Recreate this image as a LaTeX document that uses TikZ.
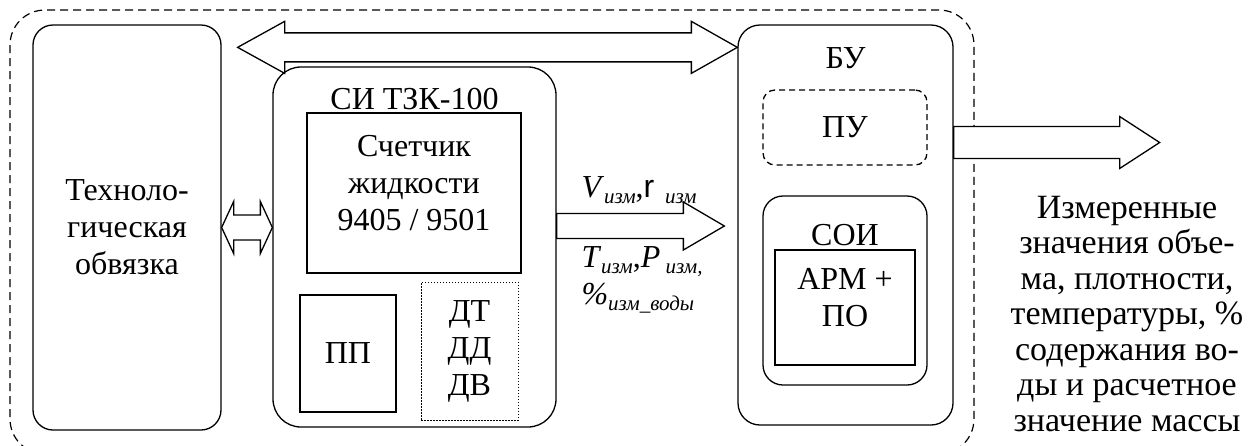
\documentclass[tikz,border=0pt]{standalone}
\usepackage{fontspec}
\setmainfont{Liberation Serif}
\newfontfamily\rhofont{Liberation Sans}
\usetikzlibrary{positioning, calc}
\newcommand{\idx}[1]{\raisebox{-6pt}{\fontsize{21}{21}\selectfont\itshape #1}}

\tikzset{
	box/.style={draw, line width=1.3pt, align=center, inner sep=0pt},
	rbox/.style={box, rounded corners=#1},
	blockarrow/.style={draw, fill=white, line width=1.3pt, line join=miter},
}

\begin{document}
\begin{tikzpicture}[x=1pt, y=-1pt, font=\fontsize{32}{37}\selectfont, node distance=6pt]
		\useasboundingbox (0,0) rectangle (1258,445);
		\clip (0,0) rectangle (1258,445);
		
		% outer frame
		\node[draw, line width=1.2pt, dash pattern=on 8pt off 5pt, rounded corners=35pt, minimum width=964pt, minimum height=444pt] (sikn) at (492,232) {};
		
		\node[rbox=20pt, minimum width=188pt, minimum height=405pt] (tech) at (127,227.5) {Техноло-\\гическая\\обвязка};
		\node[rbox=22pt, minimum width=215pt, minimum height=400pt] (bu) at (845.5,225) {};
		
		% arrows
		\coordinate (busA) at ($(tech.north east)+(16,23)$);
		\coordinate (busB) at (bu.west |- busA);
		\draw[blockarrow] (busA) -- ++(47,-26) -- ++(0,11.5) -- ($(busB)+(-46,-14.5)$) -- ++(0,-11.5) -- (busB) -- ++(-46,26) -- ++(0,-11.5) -- ($(busA)+(47,14.5)$) -- ++(0,11.5) -- cycle;
		
		\node[rbox=28pt, minimum width=283pt, minimum height=360pt] (si) at (414.5,247) {};
		\node[below=18pt of si.north] (silbl) {СИ ТЗК-100};
		\node[box, minimum width=214pt, minimum height=160pt] (counter) at (414,193) {};
		\node[align=center] (counterlbl) at (414,183) {Счетчик\\жидкости\\9405 / 9501};
		\node[box, minimum width=96pt, minimum height=117pt] (pp) at (348,353.5) {ПП};
		\node[box, line width=1pt, dash pattern=on 1.5pt off 1.5pt, minimum width=97pt, minimum height=138pt] (sensors) at (469.5,351) {ДТ\\ДД\\ДВ};
		
		\coordinate (tA) at (tech.east);
		\coordinate (tB) at (si.west |- tA);
		\draw[blockarrow] (tA) -- ++(12,-26) -- ++(0,13.5) -- ($(tB)+(-12,-12.5)$) -- ++(0,-13.5) -- (tB) -- ++(-12,26) -- ++(0,-13.5) -- ($(tA)+(12,12.5)$) -- ++(0,13.5) -- cycle;
		
		\coordinate (flowA) at ($(si.east)+(0,-21)$);
		\coordinate (flowB) at ($(bu.west |- flowA)+(-13,0)$);
		\draw[blockarrow] ($(flowA)+(0,-12.5)$) -- ($(flowB)+(-41,-12.5)$) -- ++(0,-11.5) -- (flowB) -- ++(-41,24) -- ++(0,-11.5) -- ($(flowA)+(0,12.5)$) -- cycle;
		\node[anchor=west] (flowtop) at (578,190) {\textit{V}\idx{изм},{\rhofont r}\,\,\idx{изм}};
		\node[anchor=west] (flowbot) at (578,262) {\textit{T}\idx{изм},\textit{P}\,\idx{изм,}};
		\node[anchor=west] (flowwater) at (578,298) {\textit{\%}\idx{изм\_воды}};
		
		\node[below=20pt of bu.north] (bulbl) {БУ};
		\node[rbox=12pt, dash pattern=on 6pt off 4pt, minimum width=164pt, minimum height=75pt] (pu) at (845,127.5) {ПУ};
		\node[rbox=20pt, minimum width=164pt, minimum height=189pt] (soi) at (845,290.5) {};
		\node (soilbl) at (845,235) {СОИ};
		\node[box, minimum width=140pt, minimum height=115pt] (arm) at (845,307.5) {};
		\node[align=center] (armlbl) at (845,298) {АРМ +\\ПО};
		
		\coordinate (outA) at ($(bu.east |- pu.east)+(0,15)$);
		\coordinate (outB) at ($(outA)+(206,0)$);
		\draw[blockarrow] ($(outA)+(0,-16)$) -- ($(outB)+(-40,-16)$) -- ++(0,-10) -- (outB) -- ++(-40,26) -- ++(0,-10) -- ($(outA)+(0,16)$) -- cycle;
		
		\node[align=center, inner sep=0pt, font=\fontsize{34}{35.5}\selectfont] (result) at (1127,314) {Измеренные\\значения объе-\\ма, плотности,\\температуры, \%\\содержания во-\\ды и расчетное\\значение массы};
	\end{tikzpicture}
\end{document}
